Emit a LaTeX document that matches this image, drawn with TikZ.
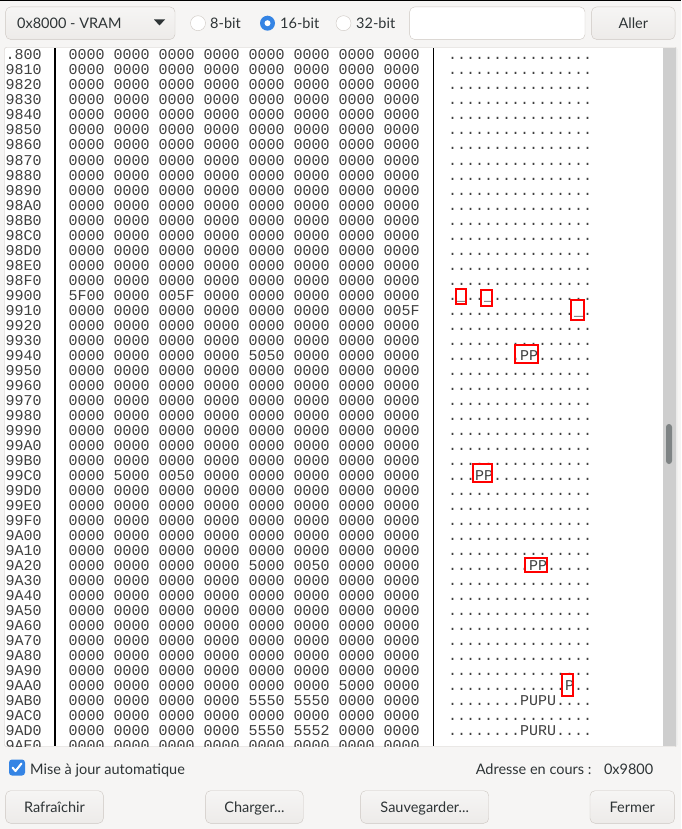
\documentclass[tikz,border=0pt]{standalone}
\usepackage{fontspec}
\setmainfont{Lato}
\newfontfamily\hexfont{Liberation Mono}
\usetikzlibrary{positioning}
\definecolor{winbg}{HTML}{F6F5F4}
\definecolor{btnlow}{HTML}{EDEBE9}
\definecolor{edge}{HTML}{CDC7C2}
\definecolor{ink}{HTML}{2E3436}
\definecolor{gnomeblue}{HTML}{3584E4}
\definecolor{track}{HTML}{CECECE}
\definecolor{thumb}{HTML}{7E8384}
\definecolor{hexink}{HTML}{404040}
\newcommand\zrow{0000 0000 0000 0000 0000 0000 0000 0000}
\newcommand\drow{................}
\newcommand\ascA{.\_..\_...........}
\newcommand\ascB{..............\_.}
\newcommand\ascC{........PP......}
\newcommand\ascD{...PP...........}
\newcommand\ascE{.........PP.....}
\newcommand\ascF{.............P..}
\newcommand\ascG{........PUPU....}
\newcommand\ascH{........PURU....}

\begin{document}
\begin{tikzpicture}[x=1pt, y=-1pt,
    ui/.style={font=\fontsize{14.5}{17}\selectfont, text=ink, inner sep=0pt},
    mono/.style={font=\hexfont\fontsize{15}{18}\selectfont, text=hexink, inner sep=0pt, anchor=base west},
    button/.style={ui, draw=edge, top color=winbg, bottom color=btnlow, rounded corners=5pt, text height=11pt, text depth=1pt},
    entry/.style={draw=edge, fill=white, rounded corners=5pt, inner sep=0pt},
    radio/.style={circle, draw=edge, fill=white, minimum size=15pt, inner sep=0pt},
    radio on/.style={circle, fill=gnomeblue, minimum size=15pt, inner sep=0pt},
    hilite/.style={draw=red, line width=2pt},
    sep/.style={black, line width=1.2pt}]
  \useasboundingbox[fill=winbg] (0,0) rectangle (681,829);
  \fill[black] (0,0) rectangle (681,1);

  % top bar
  \node[button, minimum width=169.4pt, minimum height=32.5pt] (mem) at (90.3,23.2) {};
  \node[ui, anchor=base west] (memtxt) at (17,28.5) {0x8000 - VRAM};
  \fill[ink] (154,19.5) -- (165,19.5) -- (159.5,25.5) -- cycle;
  \node[radio] (r8) at (198,23.2) {};
  \node[ui, anchor=base west] (l8) at (210,28.5) {8-bit};
  \node[radio on] (r16) at (267.5,23.2) {};
  \fill[white] (r16) circle (3pt);
  \node[ui, anchor=base west] (l16) at (280,28.5) {16-bit};
  \node[radio] (r32) at (343.5,23.2) {};
  \node[ui, anchor=base west] (l32) at (356,28.5) {32-bit};
  \node[entry, minimum width=175.4pt, minimum height=32.5pt] (goto) at (497.3,23.2) {};
  \node[button, minimum width=83.5pt, minimum height=32.5pt] (aller) at (633.3,23.2) {Aller};

  % memory view
  \draw[edge, fill=white, rounded corners=2pt] (4.5,47.5) rectangle (677,746.5);
  \begin{scope}
    \clip (5,48.5) rectangle (663,746);
    \foreach \adr/\hex/\asc [count=\i from 0] in {
        .800/\zrow/\drow, 9810/\zrow/\drow, 9820/\zrow/\drow, 9830/\zrow/\drow,
        9840/\zrow/\drow, 9850/\zrow/\drow, 9860/\zrow/\drow, 9870/\zrow/\drow,
        9880/\zrow/\drow, 9890/\zrow/\drow, 98A0/\zrow/\drow, 98B0/\zrow/\drow,
        98C0/\zrow/\drow, 98D0/\zrow/\drow, 98E0/\zrow/\drow, 98F0/\zrow/\drow,
        9900/5F00 0000 005F 0000 0000 0000 0000 0000/\ascA,
        9910/0000 0000 0000 0000 0000 0000 0000 005F/\ascB,
        9920/\zrow/\drow, 9930/\zrow/\drow,
        9940/0000 0000 0000 0000 5050 0000 0000 0000/\ascC,
        9950/\zrow/\drow, 9960/\zrow/\drow, 9970/\zrow/\drow, 9980/\zrow/\drow,
        9990/\zrow/\drow, 99A0/\zrow/\drow, 99B0/\zrow/\drow,
        99C0/0000 5000 0050 0000 0000 0000 0000 0000/\ascD,
        99D0/\zrow/\drow, 99E0/\zrow/\drow, 99F0/\zrow/\drow, 9A00/\zrow/\drow,
        9A10/\zrow/\drow,
        9A20/0000 0000 0000 0000 5000 0050 0000 0000/\ascE,
        9A30/\zrow/\drow, 9A40/\zrow/\drow, 9A50/\zrow/\drow, 9A60/\zrow/\drow,
        9A70/\zrow/\drow, 9A80/\zrow/\drow, 9A90/\zrow/\drow,
        9AA0/0000 0000 0000 0000 0000 0000 5000 0000/\ascF,
        9AB0/0000 0000 0000 0000 5550 5550 0000 0000/\ascG,
        9AC0/\zrow/\drow,
        9AD0/0000 0000 0000 0000 5550 5552 0000 0000/\ascH,
        9AE0/\zrow/\drow} {
      \node[mono] (adr\i) at (5.5,60+15*\i) {\adr};
      \node[mono] (hex\i) at (68.5,60+15*\i) {\hex};
      \node[mono] (asc\i) at (448,60+15*\i) {\asc};
    }
  \end{scope}
  \draw[sep] (55,48.5) -- (55,746);
  \draw[sep] (433.5,48.5) -- (433.5,746);
  \foreach \xa/\ya/\xb/\yb in {455.7/289.3/465.7/304.3, 480.7/290.3/491.7/305.7,
      570.7/300.3/584/320.3, 515.3/345.3/538/363, 473.3/464.3/492/482.3,
      525.3/557.7/546.7/572, 562.3/673.7/572.7/695.7}
    \draw[hilite] (\xa,\ya) rectangle (\xb,\yb);
  \fill[track] (663,48.5) rectangle (676,746);
  \draw[track!40!white] (676,48.5) -- (676,746);
  \fill[thumb, rounded corners=3pt] (666,424) rectangle (672,464);

  % bottom bar
  \node[fill=gnomeblue, rounded corners=3pt, minimum size=16pt, inner sep=0pt] (auto) at (17,767.5) {};
  \draw[white, line width=2pt, line cap=round, line join=round] (12.5,767.5) -- (15.5,771) -- (21.5,763.5);
  \node[ui, anchor=base west] (autotxt) at (30,774) {Mise à jour automatique};
  \node[ui, anchor=base east] (curlbl) at (591.7,774) {Adresse en cours :};
  \node[ui, anchor=base west] (curval) at (603.8,774) {0x9800};
  \node[button, minimum width=97.8pt, minimum height=32.6pt] (refresh) at (54.5,807) {Rafraîchir};
  \node[button, minimum width=97.7pt, minimum height=32.6pt] (load) at (254.4,807) {Charger...};
  \node[button, minimum width=128.1pt, minimum height=32.6pt] (save) at (424.7,807) {Sauvegarder...};
  \node[button, minimum width=84.6pt, minimum height=32.6pt] (close) at (632.3,807) {Fermer};
\end{tikzpicture}
\end{document}
